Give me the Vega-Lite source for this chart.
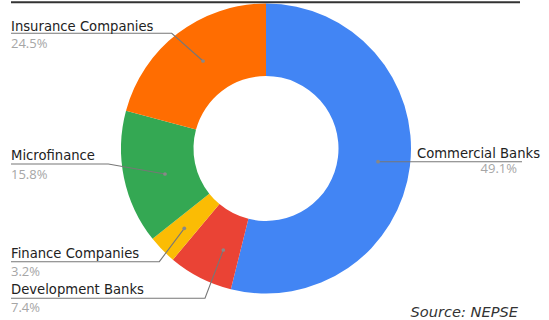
{
  "$schema": "https://vega.github.io/schema/vega-lite/v6.json",
  "width": 532,
  "height": 297,
  "autosize": {"type": "none"},
  "padding": {"left": 0, "top": 0, "right": 17, "bottom": 23},
  "background": "white",
  "config": {"view": {"stroke": null}},
  "datasets": {
    "pie": [
      {"sector": "Commercial Banks", "share": 53.9, "idx": 1},
      {"sector": "Development Banks", "share": 7.2, "idx": 2},
      {"sector": "Finance Companies", "share": 3.2, "idx": 3},
      {"sector": "Microfinance", "share": 14.9, "idx": 4},
      {"sector": "Insurance Companies", "share": 20.8, "idx": 5}
    ],
    "labels": [
      {"sector": "Commercial Banks", "pct": "49.1%", "side": "right", "nx": 274, "ny": -9.2, "px": 251, "py": -24.8},
      {"sector": "Development Banks", "pct": "7.4%", "side": "left", "nx": -255, "ny": -145.5, "px": -255, "py": -163.2},
      {"sector": "Finance Companies", "pct": "3.2%", "side": "left", "nx": -255, "ny": -109.8, "px": -255, "py": -127.2},
      {"sector": "Microfinance", "pct": "15.8%", "side": "left", "nx": -255, "ny": -11.5, "px": -255, "py": -30.5},
      {"sector": "Insurance Companies", "pct": "24.5%", "side": "left", "nx": -255, "ny": 117.8, "px": -255, "py": 100.2}
    ],
    "leaders": [
      {"sector": "Commercial Banks", "seq": 1, "X": 112, "Y": -13.2, "dot": true},
      {"sector": "Commercial Banks", "seq": 2, "X": 256, "Y": -13.2, "dot": false},
      {"sector": "Development Banks", "seq": 1, "X": -255, "Y": -149.8, "dot": false},
      {"sector": "Development Banks", "seq": 2, "X": -61, "Y": -149.8, "dot": false},
      {"sector": "Development Banks", "seq": 3, "X": -42.7, "Y": -101.5, "dot": true},
      {"sector": "Finance Companies", "seq": 1, "X": -255, "Y": -113.2, "dot": false},
      {"sector": "Finance Companies", "seq": 2, "X": -106.7, "Y": -113.2, "dot": false},
      {"sector": "Finance Companies", "seq": 3, "X": -81.7, "Y": -79.8, "dot": true},
      {"sector": "Microfinance", "seq": 1, "X": -255, "Y": -15.5, "dot": false},
      {"sector": "Microfinance", "seq": 2, "X": -157.7, "Y": -15.5, "dot": false},
      {"sector": "Microfinance", "seq": 3, "X": -101, "Y": -25.5, "dot": true},
      {"sector": "Insurance Companies", "seq": 1, "X": -255, "Y": 115.2, "dot": false},
      {"sector": "Insurance Companies", "seq": 2, "X": -94.3, "Y": 115.2, "dot": false},
      {"sector": "Insurance Companies", "seq": 3, "X": -63, "Y": 87.5, "dot": true}
    ],
    "frame": [
      {"x1": -255, "x2": 254, "yy": 146.2, "source": "Source: NEPSE", "sx": 252, "sy": -168.2}
    ]
  },
  "layer": [
    {
      "data": {"name": "pie"},
      "mark": {"type": "arc", "innerRadius": 72.5, "outerRadius": 145},
      "encoding": {
        "theta": {"field": "share", "type": "quantitative", "stack": true},
        "order": {"field": "idx", "type": "quantitative"},
        "color": {
          "field": "sector", "type": "nominal", "legend": null,
          "scale": {
            "domain": ["Commercial Banks", "Development Banks", "Finance Companies", "Microfinance", "Insurance Companies"],
            "range": ["#4285F4", "#EA4335", "#FBBC04", "#34A853", "#FF6D01"]
          }
        }
      }
    },
    {
      "data": {"name": "frame"},
      "mark": {"type": "rule", "color": "#333333", "strokeWidth": 2},
      "encoding": {
        "x": {"field": "x1", "type": "quantitative", "scale": {"domain": [-266, 266], "nice": false, "zero": false}, "axis": null},
        "x2": {"field": "x2"},
        "y": {"field": "yy", "type": "quantitative", "scale": {"domain": [-148.5, 148.5], "nice": false, "zero": false}, "axis": null}
      }
    },
    {
      "data": {"name": "leaders"},
      "mark": {"type": "line", "color": "#777777", "strokeWidth": 1.1},
      "encoding": {
        "x": {"field": "X", "type": "quantitative", "scale": {"domain": [-266, 266], "nice": false, "zero": false}, "axis": null},
        "y": {"field": "Y", "type": "quantitative", "scale": {"domain": [-148.5, 148.5], "nice": false, "zero": false}, "axis": null},
        "detail": {"field": "sector"},
        "order": {"field": "seq", "type": "quantitative"}
      }
    },
    {
      "data": {"name": "leaders"},
      "transform": [{"filter": "datum.dot"}],
      "mark": {"type": "circle", "color": "#888888", "size": 14, "opacity": 1},
      "encoding": {
        "x": {"field": "X", "type": "quantitative", "scale": {"domain": [-266, 266], "nice": false, "zero": false}, "axis": null},
        "y": {"field": "Y", "type": "quantitative", "scale": {"domain": [-148.5, 148.5], "nice": false, "zero": false}, "axis": null}
      }
    },
    {
      "data": {"name": "labels"},
      "transform": [{"filter": "datum.side == 'left'"}],
      "mark": {"type": "text", "align": "left", "baseline": "alphabetic", "font": "DejaVu Sans", "fontSize": 13.2, "color": "#222222"},
      "encoding": {
        "x": {"field": "nx", "type": "quantitative", "scale": {"domain": [-266, 266], "nice": false, "zero": false}, "axis": null},
        "y": {"field": "ny", "type": "quantitative", "scale": {"domain": [-148.5, 148.5], "nice": false, "zero": false}, "axis": null},
        "text": {"field": "sector"}
      }
    },
    {
      "data": {"name": "labels"},
      "transform": [{"filter": "datum.side == 'right'"}],
      "mark": {"type": "text", "align": "right", "baseline": "alphabetic", "font": "DejaVu Sans", "fontSize": 13.2, "color": "#222222"},
      "encoding": {
        "x": {"field": "nx", "type": "quantitative", "scale": {"domain": [-266, 266], "nice": false, "zero": false}, "axis": null},
        "y": {"field": "ny", "type": "quantitative", "scale": {"domain": [-148.5, 148.5], "nice": false, "zero": false}, "axis": null},
        "text": {"field": "sector"}
      }
    },
    {
      "data": {"name": "labels"},
      "transform": [{"filter": "datum.side == 'left'"}],
      "mark": {"type": "text", "align": "left", "baseline": "alphabetic", "font": "Open Sans", "fontSize": 13, "color": "#a6a6a6"},
      "encoding": {
        "x": {"field": "px", "type": "quantitative", "scale": {"domain": [-266, 266], "nice": false, "zero": false}, "axis": null},
        "y": {"field": "py", "type": "quantitative", "scale": {"domain": [-148.5, 148.5], "nice": false, "zero": false}, "axis": null},
        "text": {"field": "pct"}
      }
    },
    {
      "data": {"name": "labels"},
      "transform": [{"filter": "datum.side == 'right'"}],
      "mark": {"type": "text", "align": "right", "baseline": "alphabetic", "font": "Open Sans", "fontSize": 13, "color": "#a6a6a6"},
      "encoding": {
        "x": {"field": "px", "type": "quantitative", "scale": {"domain": [-266, 266], "nice": false, "zero": false}, "axis": null},
        "y": {"field": "py", "type": "quantitative", "scale": {"domain": [-148.5, 148.5], "nice": false, "zero": false}, "axis": null},
        "text": {"field": "pct"}
      }
    },
    {
      "data": {"name": "frame"},
      "mark": {"type": "text", "align": "right", "baseline": "alphabetic", "font": "DejaVu Sans", "fontSize": 14.6, "fontStyle": "italic", "color": "#333333"},
      "encoding": {
        "x": {"field": "sx", "type": "quantitative", "scale": {"domain": [-266, 266], "nice": false, "zero": false}, "axis": null},
        "y": {"field": "sy", "type": "quantitative", "scale": {"domain": [-148.5, 148.5], "nice": false, "zero": false}, "axis": null},
        "text": {"field": "source"}
      }
    }
  ]
}
